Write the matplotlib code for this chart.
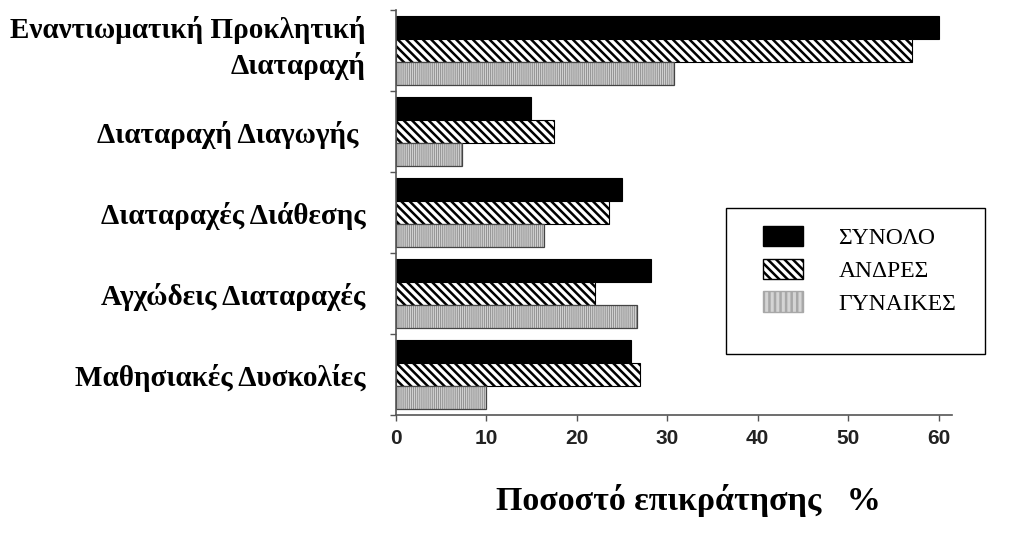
import numpy as np
import matplotlib
matplotlib.use("Agg")
import matplotlib.pyplot as plt
from matplotlib.patches import Patch, Rectangle

categories = ["Εναντιωματική Προκλητική\nΔιαταραχή",
              "Διαταραχή Διαγωγής ",
              "Διαταραχές Διάθεσης",
              "Αγχώδεις Διαταραχές",
              "Μαθησιακές Δυσκολίες"]
total = [60, 15, 25, 28.2, 26]
men = [57, 17.5, 23.6, 22, 27]
women = [30.7, 7.3, 16.4, 26.7, 10]
series_names = ["ΣΥΝΟΛΟ", "ΑΝΔΡΕΣ", "ΓΥΝΑΙΚΕΣ"]
xticks = [0, 10, 20, 30, 40, 50, 60]

plt.rcParams['hatch.linewidth'] = 1.8

fig = plt.figure(figsize=(10.12, 5.35), dpi=100)
ax = fig.add_axes([0.391, 0.224, 0.55, 0.757])

n = len(categories)
centers = n - np.arange(n) - 0.5
h = 0.28
off = 0.285

ax.barh(centers + off, total, height=h, color='black', edgecolor='black', linewidth=0.8)
hb = ax.barh(centers, men, height=h, color='white', edgecolor='black', hatch='\\\\\\\\', linewidth=0.8)
wb = ax.barh(centers - off, women, height=h, color='#d0d0d0', edgecolor='#8a8a8a', hatch='||||||||', linewidth=0)
for p in wb:
    if hasattr(p, 'set_hatch_linewidth'):
        p.set_hatch_linewidth(0.6)
ax.barh(centers - off, women, height=h, fill=False, edgecolor='#444444', linewidth=0.9)

ax.set_xlim(0, 61.5)
ax.set_ylim(0, n)
ax.set_xticks(xticks)
ax.set_xticklabels([str(t) for t in xticks], fontfamily='Liberation Sans',
                   fontweight='bold', fontsize=15, color='#222222')
ax.set_yticks(np.arange(n + 1))
ax.set_yticklabels([])
# the two-line label sits a little higher in the original
label_pos = centers.copy()
label_pos[0] += 0.12
ax.set_yticks(label_pos, minor=True)
ax.set_yticklabels(categories, minor=True, fontfamily='Liberation Serif',
                   fontweight='bold', fontsize=21, linespacing=1.35)
ax.tick_params(axis='y', which='minor', length=0, pad=22)
ax.tick_params(axis='y', which='major', length=4, width=1, color='#555555')
ax.tick_params(axis='x', length=4, width=1, color='#555555', pad=6)

for s in ['top', 'right']:
    ax.spines[s].set_visible(False)
for s in ['left', 'bottom']:
    ax.spines[s].set_color('#555555')
    ax.spines[s].set_linewidth(1.2)

fig.text(0.68, 0.065, "Ποσοστό επικράτησης   %", fontfamily='Liberation Serif',
         fontweight='bold', fontsize=24.5, ha='center', va='center')

# legend box
fig.patches.append(Rectangle((726 / 1012, 1 - 354 / 535), 259 / 1012, 146 / 535,
                             transform=fig.transFigure, fill=False,
                             edgecolor='black', linewidth=1))
handles = [Patch(facecolor='black', edgecolor='black'),
           Patch(facecolor='white', edgecolor='black', hatch='\\\\\\\\'),
           Patch(facecolor='#d4d4d4', edgecolor='#a8a8a8', hatch='|||')]
leg = fig.legend(handles, series_names, loc='upper left',
                 bbox_to_anchor=(763 / 1012, 1 - 226 / 535), frameon=False,
                 prop={'family': 'Liberation Serif', 'size': 17},
                 handlelength=1.7, handleheight=0.95, handletextpad=1.5,
                 labelspacing=0.4, borderpad=0, borderaxespad=0)

fig.savefig("out.png", dpi=100)
